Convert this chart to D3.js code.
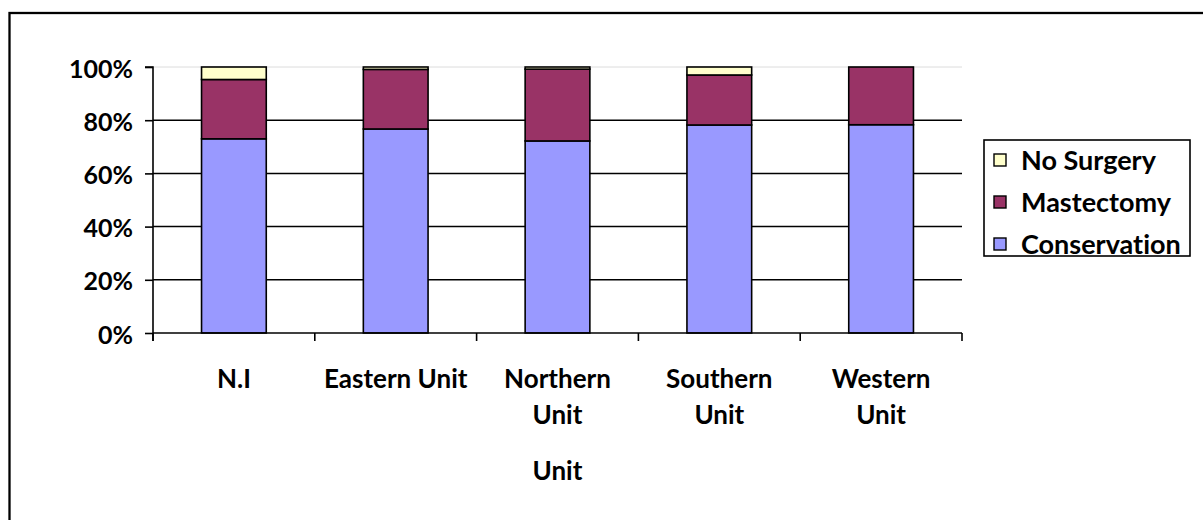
<!DOCTYPE html>
<html>
<head>
<meta charset="utf-8">
<script src="https://cdn.jsdelivr.net/npm/d3@7"></script>
<style>
  html, body { margin: 0; padding: 0; background: #fff; }
  svg text {
    font-family: Lato, "Open Sans", sans-serif; font-weight: bold; fill: #000;
    font-variant-ligatures: none; font-feature-settings: "liga" 0, "clig" 0;
  }
</style>
</head>
<body>
<svg id="chart" width="1203" height="520"></svg>
<script>
// Surgery type share by unit (percent of patients)
const units = ["N.I", "Eastern Unit", "Northern Unit", "Southern Unit", "Western Unit"];
const conservation = [73.0, 76.7, 72.2, 78.2, 78.3];
const mastectomy   = [22.3, 22.4, 27.0, 18.8, 21.7];
const noSurgery    = [4.7, 0.9, 0.8, 3.0, 0.0];
const seriesNames  = ["Conservation", "Mastectomy", "No Surgery"];
const seriesColors = ["#9999FF", "#993366", "#FFFFCC"];
const yTicks = [0, 20, 40, 60, 80, 100];
const xTitle = "Unit";

const rows = units.map((u, i) => ({
  unit: u,
  "Conservation": conservation[i],
  "Mastectomy": mastectomy[i],
  "No Surgery": noSurgery[i]
}));

const svg = d3.select("#chart");

// outer frame
svg.append("rect")
  .attr("x", 9.5).attr("y", 13).attr("width", 1300).attr("height", 600)
  .attr("fill", "none").attr("stroke", "#000").attr("stroke-width", 2.3);

const plot = { left: 153, right: 962, top: 67, bottom: 333 };

const x = d3.scaleBand().domain(units).range([plot.left, plot.right]).paddingInner(0).paddingOuter(0);
const y = d3.scaleLinear().domain([0, 100]).range([plot.bottom, plot.top]);

const barW = x.bandwidth() * 0.4;

// gridlines
svg.append("g").selectAll("line")
  .data(yTicks.filter(t => t > 0))
  .join("line")
  .attr("x1", plot.left).attr("x2", plot.right)
  .attr("y1", d => y(d)).attr("y2", d => y(d))
  .attr("stroke", d => d === 100 ? "#dcdcdc" : "#000")
  .attr("stroke-width", d => d === 100 ? 1 : 1.5);

// stacked bars
const stack = d3.stack().keys(seriesNames);
const layers = stack(rows);

svg.append("g").selectAll("g")
  .data(layers)
  .join("g")
  .attr("fill", (d, i) => seriesColors[i])
  .selectAll("rect")
  .data(d => d.filter(s => s[1] - s[0] > 0))
  .join("rect")
  .attr("x", d => x(d.data.unit) + (x.bandwidth() - barW) / 2)
  .attr("width", barW)
  .attr("y", d => y(d[1]))
  .attr("height", d => y(d[0]) - y(d[1]))
  .attr("stroke", "#000")
  .attr("stroke-width", 1.6);

// y axis
const yAxis = d3.axisLeft(y)
  .tickValues(yTicks)
  .tickFormat(d => d + "%")
  .tickSize(8)
  .tickPadding(12);

const yg = svg.append("g").attr("transform", `translate(${plot.left},0)`).call(yAxis);
yg.select(".domain").attr("stroke", "#000").attr("stroke-width", 1.6).attr("d", `M-8,${plot.top}H0V${plot.bottom + 8}`);
yg.selectAll(".tick line").attr("stroke", "#000").attr("stroke-width", 1.6);
yg.selectAll(".tick text").attr("font-size", 25).attr("font-family", "Lato").attr("dy", "0.4em");

// x axis with ticks at category boundaries
const xg = svg.append("g").attr("transform", `translate(0,${plot.bottom})`);
xg.append("line").attr("x1", plot.left).attr("x2", plot.right)
  .attr("stroke", "#000").attr("stroke-width", 1.6);
const bounds = units.map(u => x(u)).concat([plot.right]);
xg.selectAll("line.tk").data(bounds).join("line").attr("class", "tk")
  .attr("x1", d => d).attr("x2", d => d).attr("y1", 0).attr("y2", 8)
  .attr("stroke", "#000").attr("stroke-width", 1.6);

// category labels, wrapped when they crowd the band
const labels = xg.selectAll("text.cat").data(units).join("text").attr("class", "cat")
  .attr("x", d => x(d) + x.bandwidth() / 2)
  .attr("y", 55)
  .attr("text-anchor", "middle")
  .attr("font-size", 26);

labels.each(function(d) {
  const t = d3.select(this);
  t.text(d);
  if (this.getComputedTextLength() > x.bandwidth() * 0.92) {
    const words = d.split(" ");
    t.text(null);
    words.forEach((w, i) => {
      t.append("tspan")
        .attr("x", x(d) + x.bandwidth() / 2)
        .attr("dy", i === 0 ? 0 : 36)
        .text(w);
    });
  }
});

// axis title
svg.append("text")
  .attr("x", (plot.left + plot.right) / 2)
  .attr("y", 480)
  .attr("text-anchor", "middle")
  .attr("font-size", 26)
  .text(xTitle);

// legend (top entry is the last series, as stacked)
const legend = { x: 984, y: 140, w: 206, h: 116 };
const lg = svg.append("g");
lg.append("rect")
  .attr("x", legend.x).attr("y", legend.y).attr("width", legend.w).attr("height", legend.h)
  .attr("fill", "#fff").attr("stroke", "#000").attr("stroke-width", 1.6);

const legendItems = seriesNames.map((n, i) => ({ name: n, color: seriesColors[i] })).reverse();
const item = lg.selectAll("g.item").data(legendItems).join("g").attr("class", "item")
  .attr("transform", (d, i) => `translate(${legend.x}, ${160 + i * 42})`);
item.append("rect")
  .attr("x", 10).attr("y", -6).attr("width", 12).attr("height", 12)
  .attr("fill", d => d.color).attr("stroke", "#000").attr("stroke-width", 1.4);
item.append("text")
  .attr("x", 37).attr("y", 0).attr("dy", "0.36em")
  .attr("font-size", 27)
  .text(d => d.name);
</script>
</body>
</html>
